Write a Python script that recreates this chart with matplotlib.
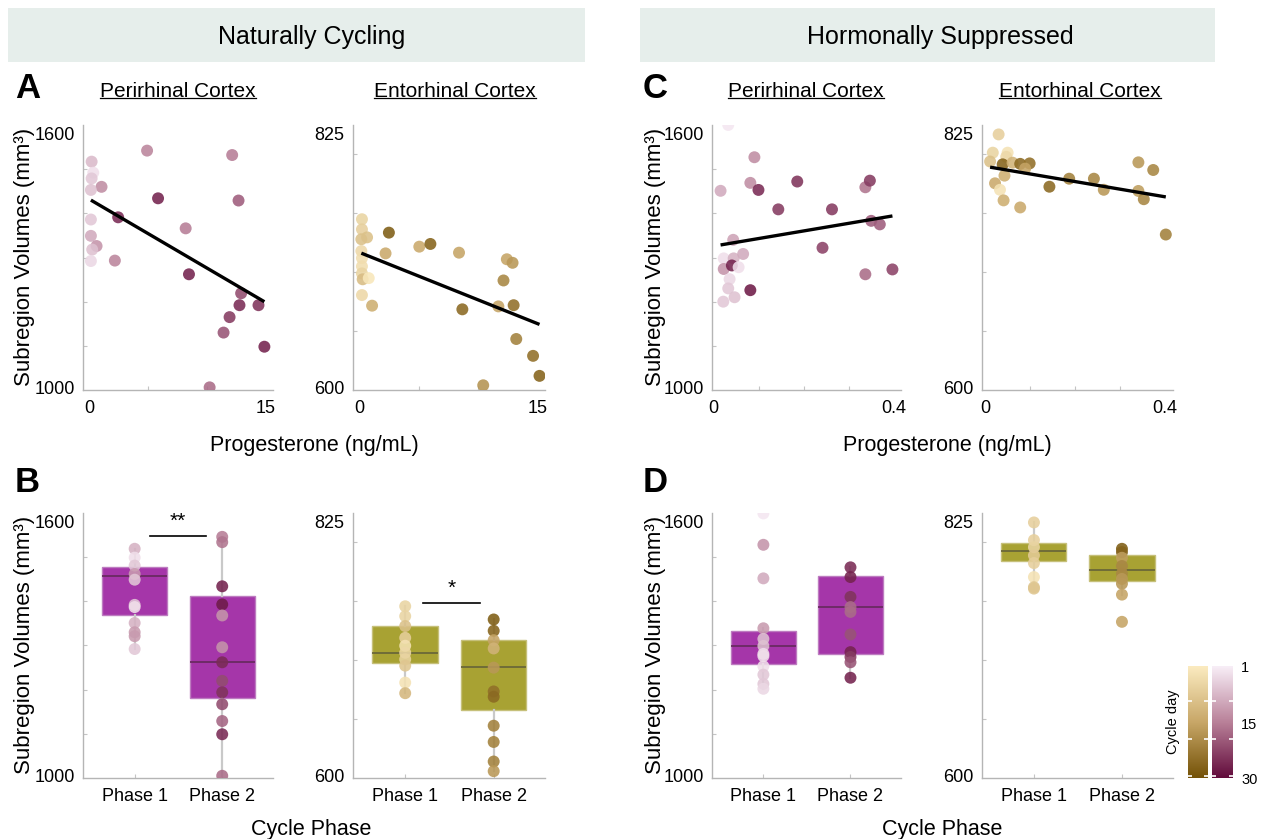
import numpy as np
import matplotlib
matplotlib.use("Agg")
import matplotlib.pyplot as plt
from matplotlib.colors import LinearSegmentedColormap
from matplotlib.transforms import ScaledTranslation
from matplotlib.lines import Line2D
from matplotlib.patches import Rectangle

plt.rcParams['font.family'] = ['Liberation Sans', 'DejaVu Sans']

# ---------------------------------------------------------------- data
# Naturally cycling: progesterone (ng/mL) vs subregion volume (mm^3), cycle day per scan
nc_peri_prog = [4.93, 12.14, 0.23, 0.37, 0.23, 1.07, 0.17, 5.86, 12.68, 2.48, 0.17, 8.2, 0.17,
                0.65, 0.28, 0.17, 2.2, 8.48, 12.9, 12.76, 14.37, 11.92, 11.41, 14.87, 10.23]
nc_peri_vol = [1542, 1532, 1517, 1492, 1479, 1460, 1453, 1434, 1429, 1391, 1386, 1366, 1349,
               1326, 1318, 1292, 1293, 1262, 1219, 1192, 1192, 1165, 1130, 1098, 1006]
nc_peri_day = [15, 16, 8, 3, 6, 14, 7, 27, 20, 26, 6, 16, 10, 13, 7, 4, 15, 27, 22, 26, 25, 24, 21, 27, 18]

nc_ento_prog = [0.25, 0.25, 0.2, 0.68, 2.51, 5.06, 5.99, 2.23, 0.2, 0.25, 0.25, 0.25, 0.31, 0.82,
                0.25, 1.1, 8.39, 12.4, 12.88, 12.12, 11.69, 12.97, 8.67, 13.19, 14.6, 15.14, 10.42]
nc_ento_vol = [745, 736.4, 728, 729.6, 733.6, 721.7, 724, 716, 718, 712, 705, 699, 694, 695,
               680.6, 671.6, 716.6, 711, 708, 693, 671, 672, 668.5, 643.3, 629, 612, 604]
nc_ento_day = [6, 7, 10, 10, 28, 15, 27, 15, 5, 4, 4, 6, 11, 2, 5, 14, 16, 16, 18, 21, 16, 25, 26,
               22, 25, 27, 19]

# Hormonally suppressed
hs_peri_prog = [0.032, 0.09, 0.015, 0.081, 0.099, 0.185, 0.143, 0.262, 0.336, 0.346, 0.349, 0.368,
                0.043, 0.022, 0.044, 0.065, 0.022, 0.04, 0.055, 0.035, 0.032, 0.046, 0.021, 0.081,
                0.241, 0.336, 0.396]
hs_peri_vol = [1600, 1527, 1451, 1469, 1453, 1472, 1409, 1409, 1459, 1474, 1383, 1375, 1340, 1298,
               1298, 1308, 1274, 1282, 1278, 1251, 1230, 1210, 1200, 1226, 1322, 1262, 1273]
hs_peri_day = [2, 14, 10, 14, 26, 25, 24, 24, 17, 24, 20, 20, 11, 3, 9, 10, 13, 27, 3, 4, 6, 7, 6,
               28, 23, 18, 23]

hs_ento_prog = [0.03, 0.017, 0.05, 0.011, 0.047, 0.039, 0.061, 0.078, 0.099, 0.089, 0.043, 0.022,
                0.033, 0.041, 0.078, 0.143, 0.187, 0.242, 0.264, 0.341, 0.374, 0.341, 0.353, 0.402]
hs_ento_vol = [817, 801.5, 801.5, 794, 798, 791.6, 793, 792, 792.4, 788, 782, 775.5, 770, 761, 755,
               772.6, 779.4, 779.4, 770, 793.3, 786.8, 769, 762, 732]
hs_ento_day = [7, 6, 3, 10, 5, 27, 13, 26, 25, 16, 14, 15, 3, 14, 15, 26, 22, 21, 18, 18, 21, 17, 21, 22]

# Linear trends (intercept, slope)
nc_peri_trend = (1432.6, -15.65)
nc_ento_trend = (717.0, -4.05)
hs_peri_trend = (1325.8, 172.4)
hs_ento_trend = (789.9, -64.6)

# Cycle-phase volumes
phases = ["Phase 1", "Phase 2"]
nc_peri_p1 = [1519, 1499, 1481, 1462, 1449, 1392, 1387, 1351, 1330, 1321, 1292]
nc_peri_p1_day = [9, 3, 6, 12, 6, 6, 3, 9, 12, 12, 6]
nc_peri_p2 = [1546, 1534, 1434, 1393, 1368, 1296, 1262, 1220, 1194, 1167, 1129, 1099, 1005]
nc_peri_p2_day = [16, 17, 27, 28, 13, 13, 26, 22, 25, 22, 19, 26, 18]
nc_ento_p1 = [745.8, 737.4, 729, 719, 712.3, 706.4, 700.8, 695.4, 681, 672]
nc_ento_p1_day = [6, 6, 10, 7, 3, 5, 6, 9, 3, 12]
nc_ento_p2 = [734.6, 725, 717, 710, 693.7, 673.5, 669, 644.4, 630.6, 614, 605.8]
nc_ento_p2_day = [28, 27, 16, 13, 18, 25, 26, 22, 22, 22, 18]
hs_peri_p1 = [1599, 1528, 1452, 1339, 1315, 1299, 1281, 1276, 1253, 1234, 1213, 1202]
hs_peri_p1_day = [2, 13, 10, 12, 7, 7, 3, 3, 3, 6, 6, 4]
hs_peri_p2 = [1477, 1455, 1410, 1387, 1376, 1325, 1285, 1274, 1262, 1227]
hs_peri_p2_day = [26, 27, 25, 18, 18, 21, 27, 24, 21, 27]
hs_ento_p1 = [817, 802, 796, 789, 782.5, 770.6, 762, 760.8]
hs_ento_p1_day = [7, 7, 6, 8, 7, 3, 9, 9]
hs_ento_p2 = [794.6, 791.8, 787, 780, 773.5, 769, 765, 755.7, 732.6]
hs_ento_p2_day = [28, 27, 17, 21, 21, 18, 18, 16, 16]

# Box summaries per phase: (whisker low, q1, median, q3, whisker high)
nc_peri_box = [(1292, 1368, 1457, 1477, 1519), (1005, 1180, 1263, 1412, 1546)]
nc_ento_box = [(672, 697.4, 706.4, 729, 745.8), (605.8, 657.4, 694, 717, 734.6)]
hs_peri_box = [(1202, 1258.6, 1299, 1332, 1339), (1227, 1280, 1387, 1457, 1477)]
hs_ento_box = [(760.8, 783.9, 792.6, 799.4, 817), (755.7, 767.3, 776.3, 789.5, 794.6)]

# ---------------------------------------------------------------- figure
W, H = 1262, 839
fig = plt.figure(figsize=(W / 100, H / 100), dpi=100)

pink = LinearSegmentedColormap.from_list("cycle_pink", ["#f8eef7", "#b98199", "#620b3b"])
gold = LinearSegmentedColormap.from_list("cycle_gold", ["#fbebc0", "#c8a768", "#745207"])

SPINE = "#b5b5b5"
PERI_LIM = (1000, 1600)
ENTO_LIM = (600, 825)
PERI_MINOR = [1100, 1200, 1300, 1400, 1500]
ENTO_MINOR = [650, 700, 750, 800]
DOT = 74


def px_axes(left, top, right, bottom):
    return fig.add_axes([left / W, 1 - bottom / H, (right - left) / W, (bottom - top) / H])


def fx(x):
    return x / W


def fy(y):
    return 1 - y / H


def style(ax, ylim, yminor, xlim, xticks, xlabels, xminor):
    ax.set_xlim(xlim)
    ax.set_ylim(ylim)
    for s in ("top", "right"):
        ax.spines[s].set_visible(False)
    for s in ("left", "bottom"):
        ax.spines[s].set_color(SPINE)
        ax.spines[s].set_linewidth(1.0)
    ax.set_yticks(list(ylim))
    ax.set_yticklabels([str(v) for v in ylim])
    ax.set_yticks(yminor, minor=True)
    ax.set_xticks(xticks)
    ax.set_xticklabels(xlabels)
    ax.set_xticks(xminor, minor=True)
    ax.tick_params(axis="y", which="major", length=0, labelsize=13, pad=6)
    ax.tick_params(axis="x", which="major", length=0, labelsize=13, pad=7)
    ax.tick_params(which="minor", direction="in", length=3, color="#c4c4c4", width=0.8)
    labels = ax.yaxis.get_major_ticks()
    labels[0].label1.set_transform(labels[0].label1.get_transform()
                                   + ScaledTranslation(0, 3 / 100, fig.dpi_scale_trans))
    labels[1].label1.set_transform(labels[1].label1.get_transform()
                                   + ScaledTranslation(0, -8 / 100, fig.dpi_scale_trans))


def scatter_panel(ax, prog, vol, day, cmap, trend, ylim, yminor, xlim, xticks, xlabels, xminor):
    ax.scatter(prog, vol, c=day, cmap=cmap, vmin=1, vmax=30, s=DOT, alpha=0.88,
               edgecolors="none", zorder=3)
    xs = np.array([min(prog), max(prog)])
    ax.plot(xs, trend[0] + trend[1] * xs, color="black", lw=2.4, zorder=4,
            solid_capstyle="butt")
    style(ax, ylim, yminor, xlim, xticks, xlabels, xminor)


def box_panel(ax, p1, p1_day, p2, p2_day, boxes, cmap, face, edge, median, ylim, yminor):
    stats = []
    for lo, q1, med, q3, hi in boxes:
        stats.append(dict(whislo=lo, q1=q1, med=med, q3=q3, whishi=hi, fliers=[]))
    ax.bxp(stats, positions=[1, 2], widths=0.74, patch_artist=True, showfliers=False,
           showcaps=False,
           boxprops=dict(facecolor=face, edgecolor=edge, linewidth=1.0),
           medianprops=dict(color=median, linewidth=1.3),
           whiskerprops=dict(color="#c9c9c9", linewidth=1.6))
    for xpos, vals, days in ((1, p1, p1_day), (2, p2, p2_day)):
        ax.scatter(np.full(len(vals), xpos), vals, c=days, cmap=cmap, vmin=1, vmax=30, s=DOT,
                   alpha=0.88, edgecolors="none", zorder=3)
    style(ax, ylim, yminor, (0.41, 2.58), [], [], [1, 2])
    ax.set_xticks([1, 2])
    ax.set_xticklabels(phases)
    ax.tick_params(axis="x", which="major", direction="in", length=3, color="#c4c4c4",
                   width=0.8, labelsize=13, pad=7)


MAGENTA = ("#a536a9", "#bd7cc0", "#6a2a62")
OLIVE = ("#a8a233", "#c6c07a", "#6b6838")

# scatter panels
axA1 = px_axes(83, 125, 273, 390)
scatter_panel(axA1, nc_peri_prog, nc_peri_vol, nc_peri_day, pink, nc_peri_trend,
              PERI_LIM, PERI_MINOR, (-0.5, 15.6), [0, 15], ["0", "15"], [5, 10])
axA2 = px_axes(353, 125, 545, 390)
scatter_panel(axA2, nc_ento_prog, nc_ento_vol, nc_ento_day, gold, nc_ento_trend,
              ENTO_LIM, ENTO_MINOR, (-0.5, 15.6), [0, 15], ["0", "15"], [5, 10])
axC1 = px_axes(712, 125, 901, 390)
scatter_panel(axC1, hs_peri_prog, hs_peri_vol, hs_peri_day, pink, hs_peri_trend,
              PERI_LIM, PERI_MINOR, (-0.004, 0.415), [0, 0.4], ["0", "0.4"], [0.1, 0.2, 0.3])
axC2 = px_axes(982, 125, 1173, 390)
scatter_panel(axC2, hs_ento_prog, hs_ento_vol, hs_ento_day, gold, hs_ento_trend,
              ENTO_LIM, ENTO_MINOR, (-0.007, 0.418), [0, 0.4], ["0", "0.4"], [0.1, 0.2, 0.3])

# phase panels
axB1 = px_axes(83, 513, 273, 778)
box_panel(axB1, nc_peri_p1, nc_peri_p1_day, nc_peri_p2, nc_peri_p2_day, nc_peri_box, pink,
          *MAGENTA, PERI_LIM, PERI_MINOR)
axB2 = px_axes(353, 513, 545, 778)
box_panel(axB2, nc_ento_p1, nc_ento_p1_day, nc_ento_p2, nc_ento_p2_day, nc_ento_box, gold,
          *OLIVE, ENTO_LIM, ENTO_MINOR)
axD1 = px_axes(712, 513, 901, 778)
box_panel(axD1, hs_peri_p1, hs_peri_p1_day, hs_peri_p2, hs_peri_p2_day, hs_peri_box, pink,
          *MAGENTA, PERI_LIM, PERI_MINOR)
axD2 = px_axes(982, 513, 1173, 778)
box_panel(axD2, hs_ento_p1, hs_ento_p1_day, hs_ento_p2, hs_ento_p2_day, hs_ento_box, gold,
          *OLIVE, ENTO_LIM, ENTO_MINOR)

# significance brackets
axB1.plot([1.175, 1.815], [1548, 1548], color="black", lw=1.2, zorder=5)
axB1.text(1.495, 1560, "**", ha="center", va="bottom", fontsize=15)
axB2.plot([1.2, 1.84], [749, 749], color="black", lw=1.2, zorder=5)
axB2.text(1.52, 753, "*", ha="center", va="bottom", fontsize=15)

# group headers
for left, right, label, cx in ((8, 585, "Naturally Cycling", 312),
                               (640, 1215, "Hormonally Suppressed", 940)):
    fig.patches.append(Rectangle((fx(left), fy(62)), (right - left) / W, 54 / H,
                                 transform=fig.transFigure, facecolor="#e6eeeb",
                                 edgecolor="none", zorder=0))
    fig.text(fx(cx), fy(44), label, ha="center", va="baseline", fontsize=18)

# panel letters
for letter, x, y in (("A", 15, 98), ("B", 15, 492), ("C", 643, 98), ("D", 643, 492)):
    fig.text(fx(x), fy(y), letter, ha="left", va="baseline", fontsize=25, fontweight="bold")

# subregion titles (underlined)
titles = []
for label, cx in (("Perirhinal Cortex", 178), ("Entorhinal Cortex", 455),
                  ("Perirhinal Cortex", 806), ("Entorhinal Cortex", 1080)):
    titles.append(fig.text(fx(cx), fy(97), label, ha="center", va="baseline", fontsize=15))

# axis labels
for x, y in ((25, 257), (25, 645), (655, 257), (655, 645)):
    fig.text(fx(x), fy(y), "Subregion Volumes (mm³)", rotation=90, ha="center", va="center",
             fontsize=16)
for cx in (314, 947):
    fig.text(fx(cx), fy(451), "Progesterone (ng/mL)", ha="center", va="baseline", fontsize=15.5)
for cx in (311, 942):
    fig.text(fx(cx), fy(835), "Cycle Phase", ha="center", va="baseline", fontsize=15.5)

# cycle-day colour keys
gradient = np.linspace(1, 30, 200).reshape(-1, 1)
for left, right, cmap in ((1188, 1208, gold), (1212, 1233, pink)):
    cax = px_axes(left, 666, right, 778)
    cax.imshow(gradient, cmap=cmap, vmin=1, vmax=30, aspect="auto",
               extent=[0, 1, 30, 1])
    cax.set_ylim(30, 1)
    cax.set_xticks([])
    cax.set_yticks([10, 20, 29.5])
    cax.tick_params(axis="y", direction="in", length=3, color="white", width=1.2,
                    left=True, right=True, labelleft=False, labelright=False)
    for s in cax.spines.values():
        s.set_visible(False)
for day_label, y in (("1", 668), ("15", 725), ("30", 780)):
    fig.text(fx(1241), fy(y), day_label, ha="left", va="center", fontsize=10.5)
fig.text(fx(1173), fy(722), "Cycle day", rotation=90, ha="center", va="center", fontsize=10.5)

# underline the subregion titles
fig.canvas.draw()
renderer = fig.canvas.get_renderer()
for t in titles:
    bb = t.get_window_extent(renderer)
    yline = (bb.y0 + 2.6) / H
    fig.add_artist(Line2D([bb.x0 / W, bb.x1 / W], [yline, yline], color="black", lw=0.9,
                          transform=fig.transFigure))

fig.savefig("out.png", dpi=100)
